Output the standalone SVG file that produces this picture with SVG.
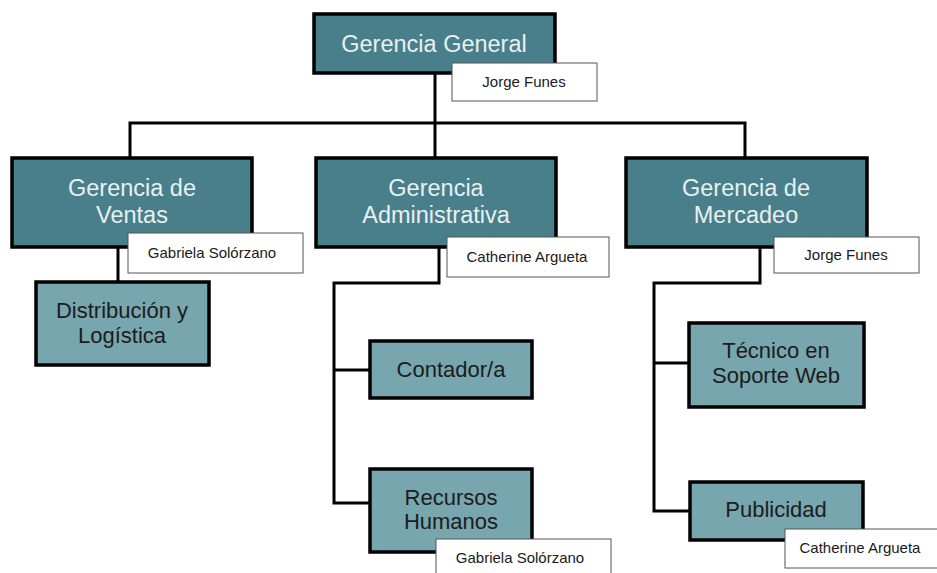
<svg xmlns="http://www.w3.org/2000/svg" width="937" height="573" viewBox="0 0 937 573">
<style>
.dark{fill:#497f8b;stroke:#000;stroke-width:3.5}
.light{fill:#77a6af;stroke:#000;stroke-width:3.5}
.lbl{fill:#fff;stroke:#555;stroke-width:1}
.td{font-family:"Liberation Sans",Arial,sans-serif;font-size:23.5px;fill:#e8f0f0;text-anchor:middle}
.tl{font-family:"Liberation Sans",Arial,sans-serif;font-size:22px;fill:#1c1c1c;text-anchor:middle}
.tn{font-family:"Liberation Sans",Arial,sans-serif;font-size:15px;fill:#1a1a1a;text-anchor:middle}
.con{fill:none;stroke:#000;stroke-width:3}
</style>
<rect width="937" height="573" fill="#fff"/>
<g id="connectors">
<path class="con" d="M435 73V123M130 157V123H745V157M435 123V157"/>
<path class="con" d="M118 247V282"/>
<path class="con" d="M439 247V283H334V503H370M334 370H370"/>
<path class="con" d="M760 247V283H654V511H690M654 363H689"/>
</g>
<g id="gerencia-general">
<rect class="dark" x="314" y="14" width="241" height="59"/>
<text class="td" x="434" y="52">Gerencia General</text>
</g>
<g id="gerencia-ventas">
<rect class="dark" x="12" y="158" width="240" height="89"/>
<text class="td" x="132" y="196">Gerencia de</text>
<text class="td" x="132" y="223">Ventas</text>
</g>
<g id="gerencia-administrativa">
<rect class="dark" x="316" y="158" width="240" height="89"/>
<text class="td" x="436" y="196">Gerencia</text>
<text class="td" x="436" y="223">Administrativa</text>
</g>
<g id="gerencia-mercadeo">
<rect class="dark" x="626" y="158" width="241" height="89"/>
<text class="td" x="746" y="196">Gerencia de</text>
<text class="td" x="746" y="223">Mercadeo</text>
</g>
<g id="distribucion">
<rect class="light" x="36" y="282" width="173" height="83"/>
<text class="tl" x="122" y="318">Distribución y</text>
<text class="tl" x="122" y="343">Logística</text>
</g>
<g id="contador">
<rect class="light" x="370" y="341" width="162" height="57"/>
<text class="tl" x="451" y="377">Contador/a</text>
</g>
<g id="recursos-humanos">
<rect class="light" x="370" y="469" width="162" height="83"/>
<text class="tl" x="451" y="505">Recursos</text>
<text class="tl" x="451" y="529">Humanos</text>
</g>
<g id="tecnico">
<rect class="light" x="689" y="323" width="175" height="84"/>
<text class="tl" x="776" y="358">Técnico en</text>
<text class="tl" x="776" y="383">Soporte Web</text>
</g>
<g id="publicidad">
<rect class="light" x="690" y="482" width="173" height="58"/>
<text class="tl" x="776" y="517">Publicidad</text>
</g>
<g id="label-gg">
<rect class="lbl" x="452" y="63" width="145" height="38"/>
<text class="tn" x="524" y="87">Jorge Funes</text>
</g>
<g id="label-ventas">
<rect class="lbl" x="128" y="233" width="175" height="40"/>
<text class="tn" x="212" y="258">Gabriela Solórzano</text>
</g>
<g id="label-admin">
<rect class="lbl" x="447" y="237" width="162" height="40"/>
<text class="tn" x="527" y="262">Catherine Argueta</text>
</g>
<g id="label-mercadeo">
<rect class="lbl" x="774" y="237" width="145" height="36"/>
<text class="tn" x="846" y="260">Jorge Funes</text>
</g>
<g id="label-rrhh">
<rect class="lbl" x="436" y="539" width="175" height="40"/>
<text class="tn" x="520" y="563">Gabriela Solórzano</text>
</g>
<g id="label-publicidad">
<rect class="lbl" x="785" y="529" width="155" height="39"/>
<text class="tn" x="860" y="553">Catherine Argueta</text>
</g>
</svg>
